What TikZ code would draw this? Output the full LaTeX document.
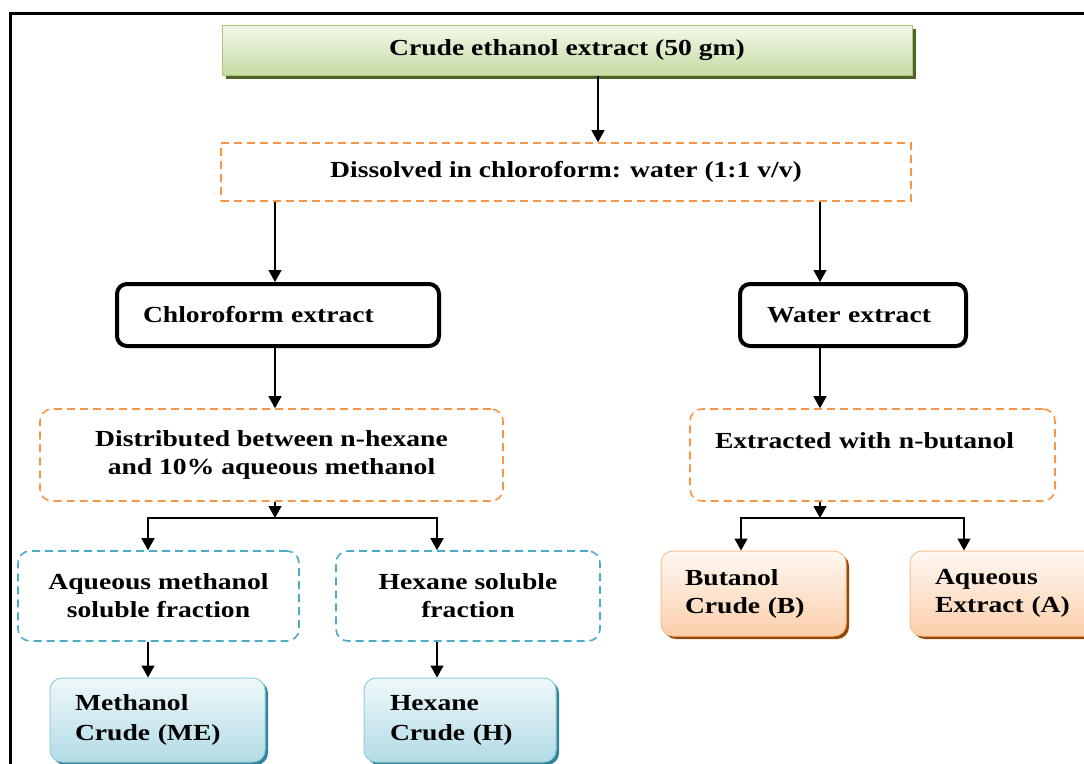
\documentclass[tikz,border=0pt]{standalone}
\usepackage{fontspec}
\setmainfont{Liberation Serif}[FakeStretch=1.2]
\usetikzlibrary{arrows.meta,shadows,calc}
\definecolor{gtop}{HTML}{F3F8EB}
\definecolor{gbot}{HTML}{C6DBA3}
\definecolor{gline}{HTML}{A8C77C}
\definecolor{gshad}{HTML}{4F6228}
\definecolor{btop}{HTML}{EFF8FA}
\definecolor{bbot}{HTML}{B2DBE5}
\definecolor{bline}{HTML}{92CDDC}
\definecolor{bshad}{HTML}{31849B}
\definecolor{otop}{HTML}{FFF8F2}
\definecolor{obot}{HTML}{FBCFAB}
\definecolor{oline}{HTML}{F9C08F}
\definecolor{oshad}{HTML}{974806}
\definecolor{dorange}{HTML}{F79646}
\definecolor{dblue}{HTML}{4BACC6}
\begin{document}
\begin{tikzpicture}[x=1pt,y=-1pt,
  every node/.style={font=\fontsize{23}{28}\selectfont\bfseries, inner sep=0pt},
  arr/.style={-{Triangle[length=12pt,width=13pt]}, line width=1.3pt},
  greenbox/.style={draw=gline, line width=1pt, top color=gtop, bottom color=gbot,
    drop shadow={shadow xshift=4pt, shadow yshift=-4pt, fill=gshad, opacity=1}},
  thickbox/.style={draw, line width=4pt, rounded corners=10pt, minimum height=62pt, align=left},
  odash/.style={draw=dorange, line width=1.6pt, dash pattern=on 8pt off 5pt},
  bdash/.style={draw=dblue, line width=1.6pt, dash pattern=on 8pt off 5pt, rounded corners=12pt, align=center},
  bluebox/.style={draw=bline, line width=1pt, rounded corners=12pt, top color=btop, bottom color=bbot, align=left,
    font=\fontsize{23}{30}\selectfont\bfseries,
    drop shadow={shadow xshift=3pt, shadow yshift=-3pt, fill=bshad, opacity=1}},
  orangebox/.style={draw=oline, line width=1pt, rounded corners=12pt, top color=otop, bottom color=obot, align=left,
    drop shadow={shadow xshift=3pt, shadow yshift=-3pt, fill=oshad, opacity=1}},
]
\useasboundingbox (0,0) rectangle (1084,763);
\clip (0,0) rectangle (1084,763);
% frame
\draw[line width=3pt] (10,765) -- (10,13) -- (1090,13);

\node[greenbox, minimum width=690pt, minimum height=50pt] (top) at (567,50) {Crude ethanol extract (50 gm)};
\node[odash, minimum width=690pt, minimum height=58pt] (diss) at (566,172) {Dissolved in chloroform: water (1:1 v/v)};

\node[thickbox, text width=270pt, inner xsep=26pt] (chl) at (278,315) {Chloroform extract};
\node[thickbox, text width=172pt, inner xsep=27pt] (wat) at (853,315) {Water extract};

\node[odash, rounded corners=12pt, minimum width=463pt, minimum height=92pt, align=center] (dist) at (271.5,455) {Distributed between n-hexane\\and 10\% aqueous methanol};
\node[odash, rounded corners=12pt, text width=315pt, inner xsep=25pt, minimum height=92pt, align=left] (ext) at (872.5,455) {Extracted with n-butanol\\\mbox{}};

\node[bdash, minimum width=281pt, minimum height=90pt] (aqm) at (158.5,596) {Aqueous methanol\\soluble fraction};
\node[bdash, minimum width=264pt, minimum height=90pt] (hexs) at (468,596) {Hexane soluble\\fraction};

\node[bluebox, text width=165pt, inner xsep=25pt, minimum height=84pt] (mec) at (157.5,720) {Methanol\\Crude (ME)};
\node[bluebox, text width=140pt, inner xsep=26pt, minimum height=84pt] (hexc) at (460,720) {Hexane\\Crude (H)};

\node[orangebox, text width=137pt, inner xsep=24pt, minimum height=85pt] (but) at (753.5,593.5) {Butanol\\Crude (B)};
\node[orangebox, text width=150pt, inner xsep=25pt, minimum height=85pt] (aqe) at (1010,593.5) {Aqueous\\Extract (A)};

% connectors
\draw[arr] ([xshift=31pt]top.south) -- ([xshift=31pt]top.south |- diss.north);
\draw[arr] ([xshift=-3pt]chl.north |- diss.south) -- ([xshift=-3pt]chl.north);
\draw[arr] ([xshift=-33pt]wat.north |- diss.south) -- ([xshift=-33pt]wat.north);
\draw[arr] ([xshift=-3pt]chl.south) -- ([xshift=-3pt]chl.south |- dist.north);
\draw[arr] ([xshift=-33pt]wat.south) -- ([xshift=-33pt]wat.south |- ext.north);

\coordinate (bl) at (275,518);
\coordinate (br) at (820,518);
\draw[arr] (dist.south -| bl) -- (bl);
\draw[arr] (bl) -| ([xshift=-10.5pt]aqm.north);
\draw[arr] (bl) -| ([xshift=-31pt]hexs.north);
\draw[arr] ([xshift=-10.5pt]aqm.south) -- ([xshift=-10.5pt]aqm.south |- mec.north);
\draw[arr] ([xshift=-31pt]hexs.south) -- ([xshift=-31pt]hexs.south |- hexc.north);

\draw[arr] (ext.south -| br) -- (br);
\draw[arr] (br) -| ([xshift=-12.5pt]but.north);
\draw[arr] (br) -| ([xshift=-46pt]aqe.north);
\end{tikzpicture}
\end{document}
